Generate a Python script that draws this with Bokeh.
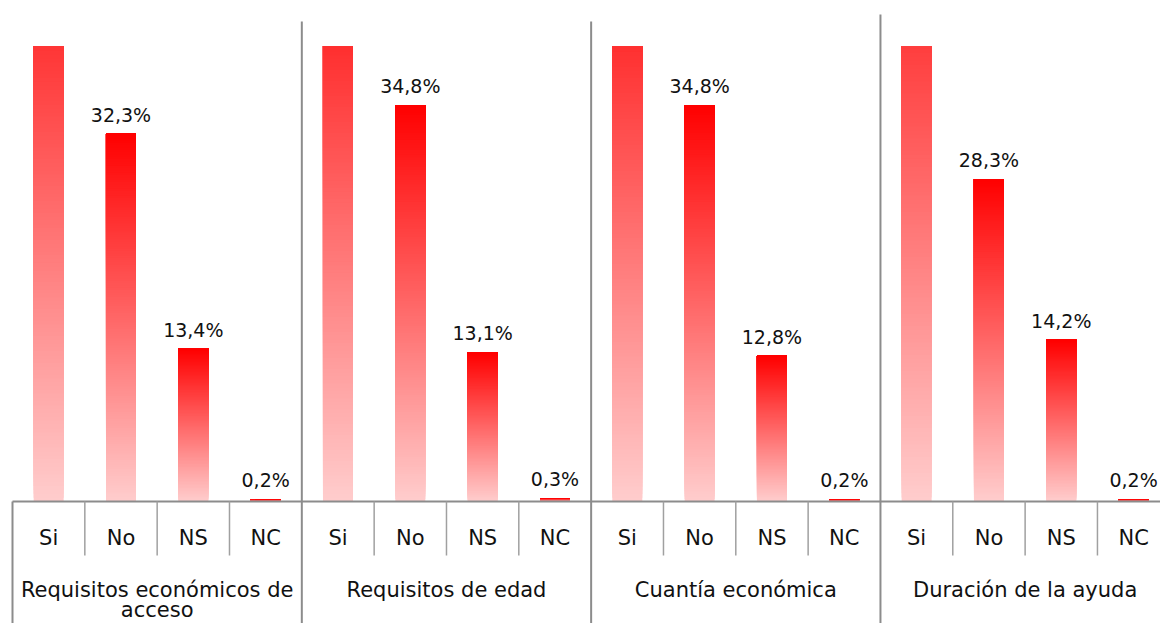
import numpy as np
from bokeh.plotting import figure
from bokeh.models import Range1d
from bokeh.core.properties import value
from bokeh.embed import file_html
from bokeh.resources import INLINE

# ---------------- data ----------------
groups = ["Requisitos económicos de\nacceso", "Requisitos de edad",
          "Cuantía económica", "Duración de la ayuda"]
answers = ["Si", "No", "NS", "NC"]
si_vals = [54.1, 51.8, 52.2, 57.3]
no_vals = [32.3, 34.8, 34.8, 28.3]
ns_vals = [13.4, 13.1, 12.8, 14.2]
nc_vals = [0.2, 0.3, 0.2, 0.2]
Y_MAX = 40.0  # value-axis maximum (Si bars are cut at this level)

# ---------------- layout (pixels) ----------------
W, H = 1160, 623
SLOT_PX = 72.33        # width of one category slot
PX_PER_PCT = 11.39     # vertical scale
X0_PX = 12             # left edge of category axis inside figure
BASE_PX = 501          # baseline position from figure top

def py(px_below):      # pixels below baseline -> data units
    return -px_below / PX_PER_PCT

x_start = -X0_PX / SLOT_PX
x_end = (W - X0_PX) / SLOT_PX
y_end = BASE_PX / PX_PER_PCT
y_start = -(H - BASE_PX) / PX_PER_PCT

p = figure(width=W, height=H, output_backend="svg", toolbar_location=None,
           x_range=Range1d(x_start, x_end), y_range=Range1d(y_start, y_end),
           x_axis_location=None, y_axis_location=None, min_border=0,
           outline_line_color=None, background_fill_color="white")
p.xgrid.visible = False
p.ygrid.visible = False

series = [si_vals, no_vals, ns_vals, nc_vals]
n_grp = len(groups)
n_ans = len(answers)

# ---------------- gradient bars ----------------
N = 160
top_rgb = np.array([255, 0, 0])
bot_rgb = np.array([255, 205, 205])
xs, bots, tops, cols = [], [], [], []
for i in range(N):
    t = (i + 0.5) / N
    c = bot_rgb * (1 - t) + top_rgb * t
    hexc = "#%02x%02x%02x" % tuple(int(round(v)) for v in c)
    for g in range(n_grp):
        for a in range(n_ans):
            v = series[a][g]
            b = v * i / N
            if b >= Y_MAX:
                continue
            xs.append(g * n_ans + a + 0.5)
            bots.append(b)
            tops.append(min(v, Y_MAX))
            cols.append(hexc)
p.vbar(x=xs, bottom=bots, top=tops, width=30 / SLOT_PX, fill_color=cols,
       line_color=None)

# ---------------- data labels ----------------
lx, ly, lt = [], [], []
for g in range(n_grp):
    for a in range(n_ans):
        v = series[a][g]
        if v < Y_MAX:
            lx.append(g * n_ans + a + 0.5)
            ly.append(v)
            lt.append(("%.1f" % v).replace(".", ",") + "%")
p.text(x=lx, y=ly, text=lt, text_align="center", text_baseline="alphabetic",
       y_offset=-19, text_font=value("DejaVu Sans"), text_font_size="19px",
       text_color="#111111")

# ---------------- category axis ----------------
grid_col = "#8c8c8c"
# baseline
p.segment(x0=[0], y0=[0], x1=[x_end + 1], y1=[0], line_color=grid_col,
          line_width=2)
# sub-category ticks
tx = [g * n_ans + a for g in range(n_grp) for a in range(1, n_ans)]
p.segment(x0=tx, y0=[0] * len(tx), x1=tx, y1=[py(54)] * len(tx),
          line_color="#a0a0a0", line_width=1.5)
# group separators
sep_top_px = [0, 480, 480, 487]
gx = [g * n_ans for g in range(n_grp)]
p.segment(x0=gx, y0=[s / PX_PER_PCT for s in sep_top_px], x1=gx,
          y1=[y_start] * len(gx), line_color=grid_col, line_width=2)

# sub-category labels
sx = [g * n_ans + a + 0.5 for g in range(n_grp) for a in range(n_ans)]
st = [answers[a] for g in range(n_grp) for a in range(n_ans)]
p.text(x=sx, y=[py(36)] * len(sx), text=st, text_align="center",
       text_baseline="alphabetic", text_font=value("DejaVu Sans"),
       text_font_size="21px", text_color="#111111")

# group labels (line by line)
glx, gly, glt = [], [], []
for g, name in enumerate(groups):
    for k, line in enumerate(name.split("\n")):
        glx.append(g * n_ans + n_ans / 2)
        gly.append(py(88 + 20 * k))
        glt.append(line)
p.text(x=glx, y=gly, text=glt, text_align="center", text_baseline="alphabetic",
       text_font=value("DejaVu Sans"), text_font_size="21px",
       text_color="#111111")

open("out.html", "w").write(file_html(p, INLINE))
